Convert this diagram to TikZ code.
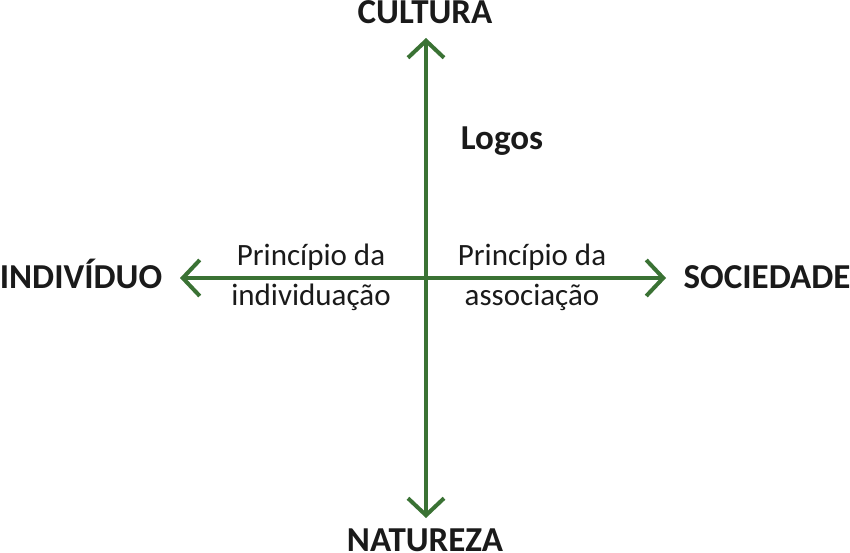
\documentclass[tikz,border=0pt]{standalone}
\usepackage{fontspec}
\setmainfont{Carlito}
\usetikzlibrary{arrows.meta}
\definecolor{axisgreen}{RGB}{58,114,52}
\definecolor{txt}{RGB}{26,26,26}
\begin{document}
\begin{tikzpicture}[x=1pt,y=-1pt,
  axis/.style={draw=axisgreen,line width=4pt,{Straight Barb[length=17pt,width=36pt,line width=4pt]}-{Straight Barb[length=17pt,width=36pt,line width=4pt]}},
  pole/.style={font=\fontsize{35}{40}\selectfont\bfseries,text=txt,inner sep=0pt,anchor=base},
  lbl/.style={font=\fontsize{31}{40}\selectfont,text=txt,align=center,inner sep=0pt,anchor=base}]
\useasboundingbox (0,0) rectangle (850,553);
\coordinate (top) at (426,38);
\coordinate (bottom) at (426,518);
\coordinate (left) at (180,278);
\coordinate (right) at (666,278);
\draw[axis] (bottom) -- (top);
\draw[axis] (left) -- (right);
\node[pole] (cultura) at (425,23.5) {CULTURA};
\node[pole] (natureza) at (425,551) {NATUREZA};
\node[pole] (individuo) at (81,288) {INDIVÍDUO};
\node[pole] (sociedade) at (767,288) {SOCIEDADE};
\node[pole] (logos) at (502,150) {Logos};
\node[lbl] (pind) at (311,305) {Princípio da\\individuação};
\node[lbl] (passoc) at (532,305) {Princípio da\\associação};
\end{tikzpicture}
\end{document}
